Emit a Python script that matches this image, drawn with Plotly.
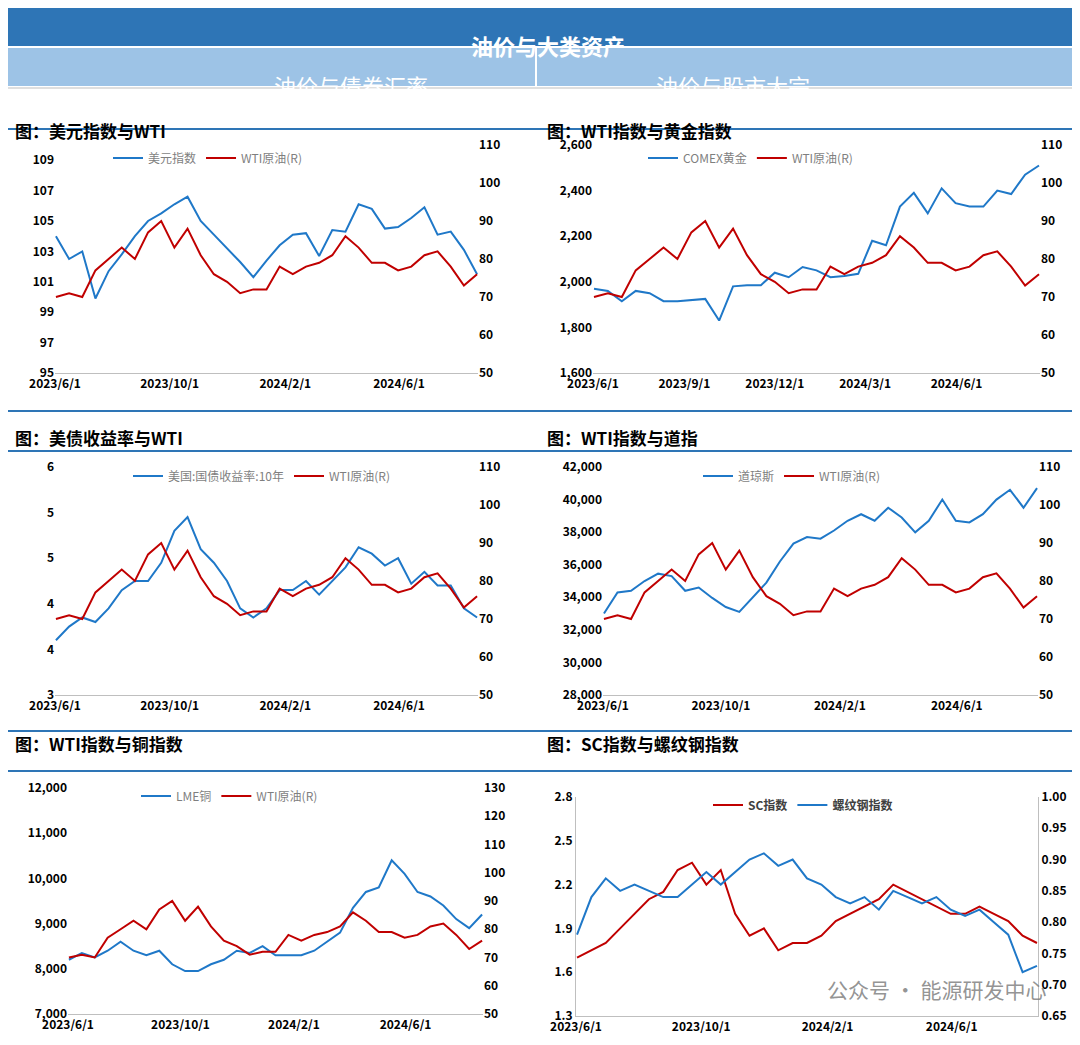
import plotly.graph_objects as go
import pandas as pd

dates = pd.date_range("2023-06-02", periods=33, freq="14D")
wti = [70, 71, 70, 77, 80, 83, 80, 87, 90, 83, 88, 81, 76, 74, 71, 72, 72, 78, 76, 78, 79, 81, 86, 83, 79, 79, 77, 78, 81, 82, 78, 73, 76]
dxy = [104, 102.5, 103, 99.9, 101.7, 102.8, 104, 105, 105.5, 106.1, 106.6, 105, 104.1, 103.2, 102.3, 101.3, 102.4, 103.4, 104.1, 104.2, 102.7, 104.4, 104.3, 106.1, 105.8, 104.5, 104.6, 105.2, 105.9, 104.1, 104.3, 103.1, 101.5]
gold = [1970, 1960, 1915, 1960, 1950, 1915, 1915, 1920, 1925, 1830, 1980, 1985, 1985, 2040, 2020, 2065, 2050, 2020, 2025, 2035, 2180, 2160, 2330, 2390, 2300, 2410, 2345, 2330, 2330, 2400, 2385, 2470, 2510]
ust10 = [3.6, 3.75, 3.85, 3.8, 3.95, 4.15, 4.25, 4.25, 4.45, 4.8, 4.95, 4.6, 4.45, 4.25, 3.95, 3.85, 3.95, 4.15, 4.15, 4.25, 4.1, 4.25, 4.4, 4.62, 4.55, 4.42, 4.5, 4.22, 4.35, 4.2, 4.2, 3.95, 3.85]
dow = [33000, 34300, 34400, 35000, 35450, 35300, 34400, 34600, 33960, 33400, 33100, 34000, 34900, 36200, 37300, 37700, 37600, 38100, 38700, 39100, 38700, 39500, 38900, 37990, 38700, 40000, 38700, 38600, 39100, 40000, 40600, 39500, 40700]
copper = [8200, 8350, 8250, 8400, 8600, 8400, 8300, 8400, 8100, 7950, 7950, 8100, 8200, 8400, 8350, 8500, 8300, 8300, 8300, 8400, 8600, 8800, 9350, 9700, 9800, 10400, 10100, 9700, 9600, 9400, 9100, 8900, 9200]
sc = [1.7, 1.75, 1.8, 1.9, 2.0, 2.1, 2.15, 2.3, 2.35, 2.2, 2.3, 2.0, 1.85, 1.9, 1.75, 1.8, 1.8, 1.85, 1.95, 2.0, 2.05, 2.1, 2.2, 2.15, 2.1, 2.05, 2.0, 2.0, 2.05, 2.0, 1.95, 1.85, 1.8]
rebar = [0.78, 0.84, 0.87, 0.85, 0.86, 0.85, 0.84, 0.84, 0.86, 0.88, 0.86, 0.88, 0.9, 0.91, 0.89, 0.9, 0.87, 0.86, 0.84, 0.83, 0.84, 0.82, 0.85, 0.84, 0.83, 0.84, 0.82, 0.81, 0.82, 0.8, 0.78, 0.72, 0.73]

BLUE = "#1f78c8"
RED = "#c00000"
W, H = 1080, 1045
FONT = "Noto Sans CJK SC"

def px(x): return x / W
def py(y): return 1 - y / H

panels = [
    dict(l=dxy, ln="美元指数", r=wti, rn="WTI原油(R)", x=(47, 470), y=(137, 365), lr=[95, 110], ld=2, lf=None, lt0=95,
         rr=[50, 110], rd=10, rf=None, xt=["2023-06-01", "2023-10-01", "2024-02-01", "2024-06-01"], lg=(100, 150)),
    dict(l=gold, ln="COMEX黄金", r=wti, rn="WTI原油(R)", x=(585, 1032), y=(137, 365), lr=[1600, 2600], ld=200, lf=",d", lt0=1600,
         rr=[50, 110], rd=10, rf=None, xt=["2023-06-01", "2023-09-01", "2023-12-01", "2024-03-01", "2024-06-01"], lg=(635, 150)),
    dict(l=ust10, ln="美国:国债收益率:10年", r=wti, rn="WTI原油(R)", x=(47, 470), y=(459, 687), lr=[3, 5.5], ld=0.5, lf=".0f", lt0=3,
         rr=[50, 110], rd=10, rf=None, xt=["2023-06-01", "2023-10-01", "2024-02-01", "2024-06-01"], lg=(120, 468)),
    dict(l=dow, ln="道琼斯", r=wti, rn="WTI原油(R)", x=(595, 1030), y=(459, 687), lr=[28000, 42000], ld=2000, lf=",d", lt0=28000,
         rr=[50, 110], rd=10, rf=None, xt=["2023-06-01", "2023-10-01", "2024-02-01", "2024-06-01"], lg=(690, 468)),
    dict(l=copper, ln="LME铜", r=wti, rn="WTI原油(R)", x=(60, 475), y=(780, 1006), lr=[7000, 12000], ld=1000, lf=",d", lt0=7000,
         rr=[50, 130], rd=10, rf=None, xt=["2023-06-01", "2023-10-01", "2024-02-01", "2024-06-01"], lg=(128, 788)),
    dict(l=sc, ln="SC指数", r=rebar, rn="螺纹钢指数", x=(568, 1030), y=(789, 1008), lr=[1.3, 2.8], ld=0.3, lf=".1f", lt0=1.3,
         rr=[0.65, 1.0], rd=0.05, rf=".2f", xt=["2023-06-01", "2023-10-01", "2024-02-01", "2024-06-01"], lg=(700, 797), swap=True),
]

fig = go.Figure()
layout = dict(width=W, height=H, margin=dict(l=0, r=0, t=0, b=0, autoexpand=False), paper_bgcolor="white",
              plot_bgcolor="white", font=dict(family=FONT, size=12, color="black"), showlegend=True)
tickf = dict(family=FONT, size=12, color="black", weight="bold")

for i, p in enumerate(panels):
    n = i + 1
    xa, ya, ya2 = f"x{n}", f"y{2*n-1}", f"y{2*n}"
    lgname = "legend" if n == 1 else f"legend{n}"
    swap = p.get("swap", False)
    lcol, rcol = (RED, BLUE) if swap else (BLUE, RED)
    fig.add_trace(go.Scatter(x=dates, y=p["l"], name=p["ln"], mode="lines", line=dict(color=lcol, width=2),
                             xaxis=xa, yaxis=ya, legend=lgname))
    fig.add_trace(go.Scatter(x=dates, y=p["r"], name=p["rn"], mode="lines", line=dict(color=rcol, width=2),
                             xaxis=xa, yaxis=ya2, legend=lgname))
    xk = "xaxis" if n == 1 else f"xaxis{n}"
    yk1 = f"yaxis{2*n-1}" if n > 1 else "yaxis"
    yk2 = f"yaxis{2*n}"
    end = "2024-08-24"
    layout[xk] = dict(domain=[px(p["x"][0]), px(p["x"][1])], anchor=ya, type="date", automargin=False,
                      range=["2023-06-01", end], tickvals=p["xt"], tickformat="%Y/%-m/%-d",
                      showgrid=False, showline=True, linecolor="#bfbfbf", ticks="", tickfont=tickf, zeroline=False)
    ydom = [py(p["y"][1]), py(p["y"][0])]
    layout[yk1] = dict(domain=ydom, anchor=xa, range=p["lr"], tick0=p["lt0"], dtick=p["ld"], showgrid=False,
                       zeroline=False, tickfont=tickf, ticks="", showline=swap, linecolor="#bfbfbf", automargin=False)
    if p["lf"]:
        layout[yk1]["tickformat"] = p["lf"]
    layout[yk2] = dict(domain=ydom, anchor=xa, overlaying=ya, side="right", range=p["rr"], dtick=p["rd"],
                       tick0=p["rr"][0], showgrid=False, zeroline=False, tickfont=tickf, ticks="",
                       showline=swap, linecolor="#bfbfbf", automargin=False)
    if p["rf"]:
        layout[yk2]["tickformat"] = p["rf"]
    lgc = "#404040" if swap else "#7f7f7f"
    layout[lgname] = dict(orientation="h", x=px(p["lg"][0]), y=py(p["lg"][1]), xanchor="left", yanchor="middle",
                          bgcolor="rgba(0,0,0,0)", font=dict(size=12, color=lgc, family=FONT,
                                                             weight="bold" if swap else "normal"),
                          itemwidth=30, tracegroupgap=0)

shapes = []
ann = []
shapes.append(dict(type="rect", xref="paper", yref="paper", x0=0, x1=1, y0=py(38), y1=py(0),
                   fillcolor="#2e75b6", line=dict(width=0)))
shapes.append(dict(type="rect", xref="paper", yref="paper", x0=0, x1=px(527), y0=py(78), y1=py(40),
                   fillcolor="#9dc3e6", line=dict(width=0)))
shapes.append(dict(type="rect", xref="paper", yref="paper", x0=px(529), x1=1, y0=py(78), y1=py(40),
                   fillcolor="#9dc3e6", line=dict(width=0)))
shapes.append(dict(type="line", xref="paper", yref="paper", x0=0, x1=1, y0=py(80), y1=py(80),
                   line=dict(color="#bfbfbf", width=1)))
ann.append(dict(text="油价与大类资产", x=0.5, y=py(19), xref="paper", yref="paper", showarrow=False,
                font=dict(size=22, color="white", family=FONT, weight="bold")))
ann.append(dict(text="油价与债券汇率", x=px(264), y=py(59), xref="paper", yref="paper", showarrow=False,
                font=dict(size=22, color="white", family=FONT)))
ann.append(dict(text="油价与股市大宗", x=px(804), y=py(59), xref="paper", yref="paper", showarrow=False,
                font=dict(size=22, color="white", family=FONT)))
for yl in [121, 403, 443, 723, 763]:
    shapes.append(dict(type="line", xref="paper", yref="paper", x0=0, x1=1, y0=py(yl), y1=py(yl),
                       line=dict(color="#2e75b6", width=2)))
titles = [("图：美元指数与WTI", 5, 108), ("图：WTI指数与黄金指数", 537, 108),
          ("图：美债收益率与WTI", 5, 430), ("图：WTI指数与道指", 537, 430),
          ("图：WTI指数与铜指数", 5, 750), ("图：SC指数与螺纹钢指数", 537, 750)]
for t, x, y in titles:
    ann.append(dict(text=t, x=px(x), y=py(y), xref="paper", yref="paper", xanchor="left", showarrow=False,
                    font=dict(size=17, color="black", family=FONT, weight="bold")))
ann.append(dict(text="公众号 · 能源研发中心", x=px(1040), y=py(998), xref="paper", yref="paper", xanchor="right",
                showarrow=False, font=dict(size=21, color="rgba(120,120,120,0.8)", family=FONT)))
layout["shapes"] = shapes
layout["annotations"] = ann
fig.update_layout(**layout)
fig.write_html("out.html")
